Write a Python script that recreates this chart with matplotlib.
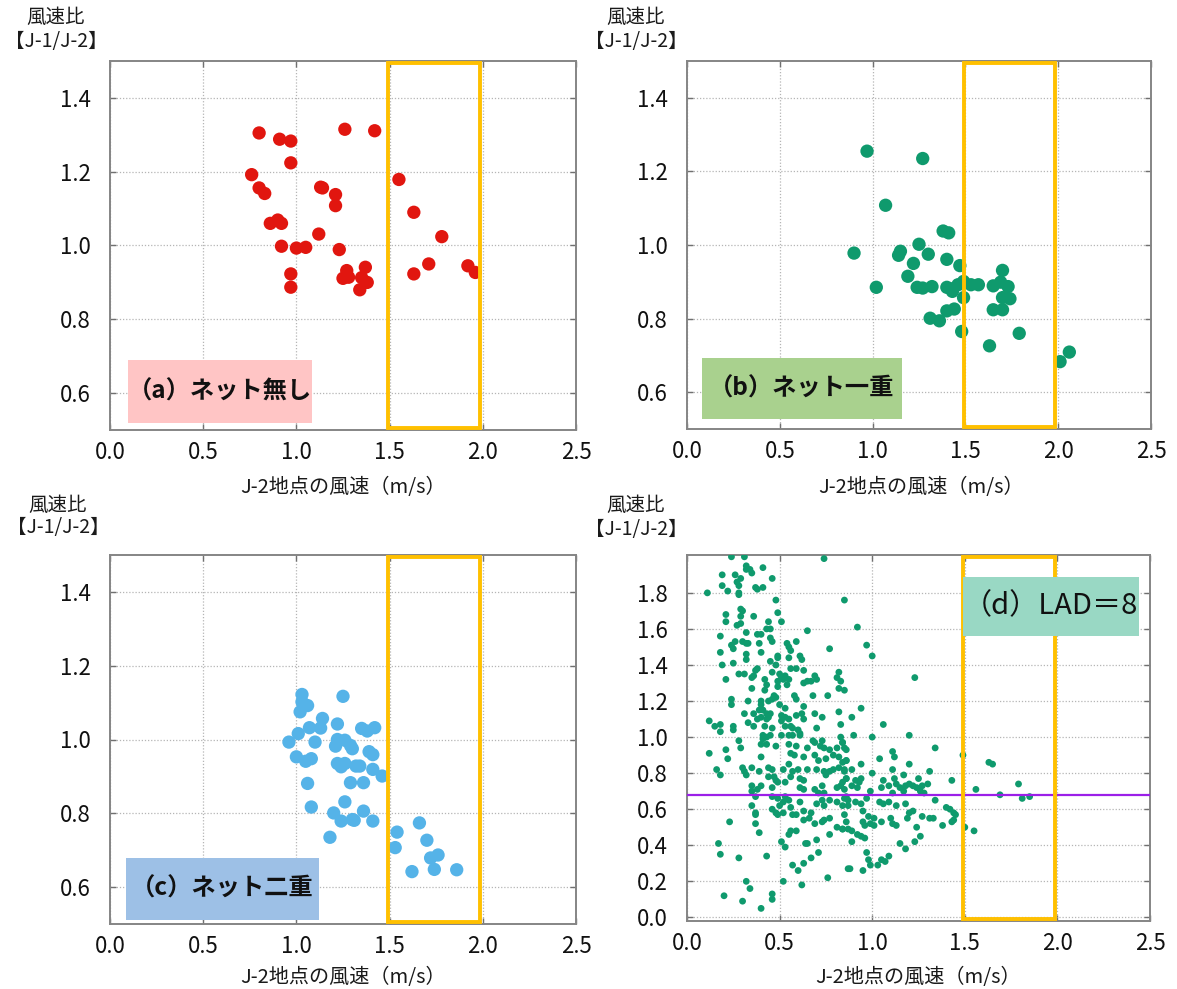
import matplotlib
matplotlib.use('Agg')
import matplotlib.pyplot as plt
from matplotlib.patches import Rectangle

plt.rcParams['font.family'] = ['Noto Sans CJK JP', 'DejaVu Sans']

# ---------------- data ----------------
x_ticks = [0.0, 0.5, 1.0, 1.5, 2.0, 2.5]
x_ticklabels = ['0.0', '0.5', '1.0', '1.5', '2.0', '2.5']
y_ticks_abc = [0.6, 0.8, 1.0, 1.2, 1.4]
y_ticks_d = [0.0, 0.2, 0.4, 0.6, 0.8, 1.0, 1.2, 1.4, 1.6, 1.8]

x_label = 'J-2地点の風速（m/s）'
y_label_1 = '風速比'
y_label_2 = '【J-1/J-2】'

panel_titles = ['（a）ネット無し', '（b）ネット一重', '（c）ネット二重', '（d）LAD＝8']

# (a) no net
a_x = [0.80, 0.91, 0.97, 1.26, 1.42, 0.97, 0.76, 0.80, 0.83, 1.13,
       1.14, 1.21, 1.21, 1.55, 1.63, 0.86, 0.90, 0.92, 1.12, 1.78,
       0.92, 1.00, 1.05, 1.23, 1.71, 1.92, 1.96, 1.63, 0.97, 0.97,
       1.27, 1.25, 1.28, 1.37, 1.35, 1.38, 1.34]
a_y = [1.305, 1.288, 1.283, 1.315, 1.311, 1.224, 1.192, 1.156, 1.141, 1.158,
       1.156, 1.138, 1.108, 1.179, 1.090, 1.060, 1.069, 1.060, 1.031, 1.024,
       0.998, 0.993, 0.995, 0.989, 0.950, 0.945, 0.927, 0.923, 0.923, 0.887,
       0.932, 0.911, 0.914, 0.941, 0.913, 0.900, 0.880]

# (b) single net
b_x = [0.97, 1.27, 1.07, 1.38, 1.41, 1.25, 0.90, 1.14, 1.15, 1.30,
       1.40, 1.22, 1.47, 1.70, 1.19, 1.02, 1.24, 1.27, 1.32, 1.40,
       1.43, 1.46, 1.49, 1.53, 1.57, 1.65, 1.69, 1.73, 1.49, 1.70,
       1.74, 1.40, 1.44, 1.65, 1.70, 1.31, 1.36, 1.48, 1.79, 1.63,
       2.06, 2.01, 1.43]
b_y = [1.255, 1.235, 1.108, 1.038, 1.033, 1.002, 0.978, 0.972, 0.983, 0.975,
       0.961, 0.950, 0.944, 0.931, 0.915, 0.885, 0.885, 0.883, 0.887, 0.885,
       0.881, 0.892, 0.901, 0.892, 0.892, 0.889, 0.899, 0.887, 0.857, 0.857,
       0.854, 0.821, 0.826, 0.824, 0.824, 0.801, 0.794, 0.765, 0.760, 0.726,
       0.709, 0.683, 0.874]

# (c) double net
c_x = [1.03, 1.25, 1.03, 1.06, 1.02, 1.14, 1.13, 1.07, 1.22, 1.35,
       1.38, 1.42, 1.01, 0.96, 1.10, 1.22, 1.21, 1.26, 1.29, 1.30,
       1.39, 1.41, 1.00, 1.05, 1.08, 1.22, 1.24, 1.26, 1.32, 1.34,
       1.41, 1.46, 1.06, 1.29, 1.36, 1.26, 1.08, 1.20, 1.36, 1.24,
       1.30, 1.31, 1.41, 1.18, 1.54, 1.66, 1.70, 1.53, 1.72, 1.76,
       1.62, 1.74, 1.86]
c_y = [1.122, 1.117, 1.102, 1.092, 1.075, 1.057, 1.031, 1.032, 1.042, 1.030,
       1.023, 1.032, 1.016, 0.993, 0.993, 1.000, 0.982, 0.998, 0.984, 0.975,
       0.967, 0.959, 0.953, 0.941, 0.948, 0.935, 0.926, 0.935, 0.928, 0.928,
       0.919, 0.901, 0.881, 0.883, 0.883, 0.831, 0.817, 0.801, 0.806, 0.779,
       0.783, 0.781, 0.779, 0.735, 0.749, 0.774, 0.727, 0.707, 0.679, 0.687,
       0.642, 0.648, 0.647]

# (d) LAD = 8 (simulation)
d_x = [0.24, 0.31, 0.74, 0.32, 0.32, 0.34, 0.35, 0.41, 0.19, 0.26,
       0.29, 0.46, 0.19, 0.22, 0.27, 0.28, 0.37, 0.38, 0.41, 0.11,
       0.28, 0.28, 0.48, 0.85, 0.21, 0.29, 0.30, 0.21, 0.29, 0.36,
       0.49, 0.51, 0.27, 0.29, 0.44, 0.45, 0.43, 0.38, 0.40, 0.32,
       0.65, 0.18, 0.26, 0.30, 0.33, 0.32, 0.24, 0.25, 0.39, 0.45,
       0.46, 0.54, 0.59, 0.55, 0.56, 0.77, 0.18, 0.32, 0.40, 0.49,
       0.49, 0.45, 0.55, 0.61, 0.62, 0.32, 0.19, 0.25, 0.63, 0.56,
       0.59, 0.48, 0.38, 0.37, 0.46, 0.28, 0.31, 0.35, 0.36, 0.50,
       0.51, 0.53, 0.52, 0.49, 0.55, 0.63, 0.65, 0.67, 0.69, 0.70,
       0.82, 0.81, 0.83, 0.21, 0.42, 0.43, 0.35, 0.42, 0.49, 0.54,
       0.82, 0.85, 0.24, 0.24, 0.33, 0.40, 0.40, 0.44, 0.46, 0.47,
       0.48, 0.50, 0.53, 0.58, 0.59, 0.63, 0.68, 0.76, 0.31, 0.36,
       0.39, 0.41, 0.43, 0.45, 0.44, 0.40, 0.38, 0.43, 0.51, 0.53,
       0.55, 0.59, 0.62, 0.69, 0.73, 0.82, 0.12, 0.15, 0.18, 0.18,
       0.25, 0.25, 0.33, 0.36, 0.42, 0.46, 0.51, 0.53, 0.56, 0.57,
       0.60, 0.61, 0.57, 0.63, 0.70, 0.83, 0.28, 0.41, 0.43, 0.45,
       0.41, 0.51, 0.55, 0.61, 0.68, 0.73, 0.83, 0.84,
       0.40, 0.43, 0.48, 0.55, 0.59, 0.65, 0.69, 0.72, 0.74, 0.77,
       0.81, 0.84, 0.86, 0.12, 0.21, 0.22, 0.29, 0.40, 0.56, 0.58,
       0.63, 0.69, 0.71, 0.75, 0.79, 0.82, 0.84, 0.86, 0.16, 0.18,
       0.30, 0.31, 0.32, 0.35, 0.39, 0.44, 0.46, 0.44, 0.47, 0.48,
       0.52, 0.55, 0.57, 0.60, 0.61, 0.63, 0.65, 0.70, 0.74, 0.75,
       0.77, 0.79, 0.82, 0.85, 0.86, 0.35, 0.40, 0.38, 0.35, 0.46,
       0.49, 0.53, 0.56, 0.61, 0.63, 0.69, 0.71, 0.73, 0.74, 0.81,
       0.84, 0.85, 0.37, 0.46, 0.49, 0.53, 0.55, 0.52, 0.50, 0.46,
       0.48, 0.49, 0.56, 0.61, 0.63, 0.63, 0.67, 0.70, 0.73, 0.74,
       0.77, 0.81, 0.84, 0.85, 0.87, 0.35, 0.37, 0.37, 0.23, 0.37,
       0.39, 0.52, 0.57, 0.59, 0.66, 0.69, 0.73, 0.74, 0.77, 0.81,
       0.84, 0.85, 0.87, 0.17, 0.18, 0.28, 0.43, 0.51, 0.53, 0.55,
       0.56, 0.59, 0.64, 0.65, 0.70, 0.71, 0.67, 0.77, 0.32, 0.34,
       0.20, 0.30, 0.40, 0.46, 0.46, 0.52, 0.57, 0.60, 0.63, 0.62,
       0.76, 0.88,
       0.92, 0.97, 1.00, 1.23, 0.94, 0.89, 1.06, 0.90, 1.00, 1.20,
       0.85, 1.34, 1.49, 1.63, 1.65, 1.11, 1.12, 1.04, 0.94, 0.86,
       1.20, 0.85, 0.89, 1.11, 1.00, 1.31, 0.86, 0.91, 0.93, 0.94,
       1.06, 1.12, 1.17, 1.25, 1.43, 1.56, 1.79, 0.83, 0.89, 0.92,
       0.99, 1.05, 1.09, 1.13, 1.15, 1.18, 1.20, 1.22, 1.24, 1.27,
       1.30, 1.28, 1.26, 1.17, 1.11, 1.69, 1.81, 1.85, 0.86, 0.91,
       0.94, 0.87, 0.97, 1.04, 1.06, 1.09, 1.13, 1.18, 1.34, 1.40,
       1.42, 1.44, 1.45, 0.95, 0.98, 1.01, 1.20, 1.22, 1.27, 1.31,
       1.33, 0.86, 0.84, 0.89, 0.92, 0.95, 0.96, 0.99, 1.01, 1.05,
       1.10, 1.11, 1.13, 1.19, 1.24, 1.38, 1.43, 1.44, 1.50, 1.55,
       0.89, 0.94, 0.96, 1.15, 1.18, 1.23, 1.26, 0.97, 0.98, 0.99,
       1.03, 1.05, 1.07, 1.09, 0.87, 0.95]
d_y = [2.00, 2.00, 1.99, 1.95, 1.93, 1.93, 1.91, 1.94, 1.90, 1.90,
       1.88, 1.88, 1.84, 1.81, 1.86, 1.84, 1.83, 1.82, 1.83, 1.80,
       1.80, 1.79, 1.76, 1.76, 1.68, 1.71, 1.70, 1.64, 1.67, 1.67,
       1.69, 1.64, 1.62, 1.63, 1.64, 1.60, 1.60, 1.57, 1.57, 1.58,
       1.59, 1.56, 1.53, 1.53, 1.52, 1.52, 1.51, 1.49, 1.52, 1.55,
       1.53, 1.52, 1.53, 1.50, 1.48, 1.49, 1.47, 1.46, 1.47, 1.45,
       1.44, 1.42, 1.44, 1.45, 1.43, 1.43, 1.40, 1.41, 1.37, 1.38,
       1.38, 1.40, 1.38, 1.37, 1.36, 1.35, 1.35, 1.33, 1.34, 1.35,
       1.33, 1.34, 1.32, 1.31, 1.32, 1.30, 1.31, 1.31, 1.34, 1.32,
       1.36, 1.33, 1.31, 1.32, 1.32, 1.29, 1.27, 1.26, 1.28, 1.29,
       1.27, 1.26, 1.21, 1.18, 1.20, 1.20, 1.18, 1.20, 1.21, 1.23,
       1.22, 1.18, 1.16, 1.23, 1.21, 1.17, 1.23, 1.23, 1.13, 1.13,
       1.15, 1.15, 1.13, 1.13, 1.11, 1.11, 1.10, 1.10, 1.12, 1.11,
       1.10, 1.12, 1.13, 1.13, 1.11, 1.14, 1.09, 1.06, 1.07, 1.03,
       1.06, 1.04, 1.08, 1.06, 1.06, 1.05, 1.09, 1.06, 1.06, 1.05,
       1.04, 1.02, 1.01, 1.10, 1.05, 1.07, 0.98, 1.01, 1.00, 1.01,
       0.99, 1.01, 1.01, 1.01, 0.98, 0.98, 1.00, 0.97,
       0.96, 0.96, 0.95, 0.96, 0.95, 0.94, 0.97, 0.95, 0.94, 0.93,
       0.94, 0.97, 0.93, 0.91, 0.93, 0.88, 0.94, 0.89, 0.91, 0.90,
       0.89, 0.90, 0.87, 0.88, 0.90, 0.89, 0.86, 0.87, 0.82, 0.79,
       0.83, 0.81, 0.79, 0.83, 0.81, 0.83, 0.82, 0.78, 0.78, 0.76,
       0.82, 0.85, 0.81, 0.82, 0.77, 0.76, 0.82, 0.82, 0.81, 0.79,
       0.81, 0.82, 0.83, 0.81, 0.77, 0.73, 0.73, 0.71, 0.70, 0.72,
       0.75, 0.75, 0.78, 0.72, 0.71, 0.71, 0.69, 0.73, 0.69, 0.72,
       0.75, 0.71, 0.67, 0.67, 0.66, 0.67, 0.65, 0.64, 0.62, 0.60,
       0.58, 0.57, 0.61, 0.64, 0.59, 0.54, 0.58, 0.63, 0.65, 0.62,
       0.65, 0.64, 0.62, 0.66, 0.65, 0.62, 0.58, 0.57, 0.53, 0.52,
       0.47, 0.58, 0.57, 0.57, 0.55, 0.52, 0.53, 0.54, 0.55, 0.50,
       0.49, 0.57, 0.49, 0.41, 0.35, 0.33, 0.34, 0.42, 0.39, 0.46,
       0.48, 0.48, 0.41, 0.41, 0.43, 0.36, 0.33, 0.46, 0.20, 0.16,
       0.12, 0.09, 0.05, 0.13, 0.10, 0.20, 0.29, 0.26, 0.30, 0.18,
       0.22, 0.27,
       1.61, 1.51, 1.45, 1.33, 1.16, 1.11, 1.07, 1.01, 1.00, 1.01,
       0.94, 0.94, 0.90, 0.86, 0.85, 0.92, 0.89, 0.88, 0.85, 0.87,
       0.85, 0.82, 0.82, 0.82, 0.80, 0.81, 0.77, 0.76, 0.75, 0.77,
       0.76, 0.77, 0.79, 0.77, 0.76, 0.71, 0.74, 0.73, 0.73, 0.72,
       0.70, 0.72, 0.73, 0.74, 0.72, 0.73, 0.74, 0.73, 0.72, 0.73,
       0.74, 0.69, 0.70, 0.70, 0.69, 0.68, 0.66, 0.67, 0.67, 0.64,
       0.63, 0.62, 0.66, 0.64, 0.63, 0.64, 0.62, 0.63, 0.65, 0.61,
       0.60, 0.58, 0.57, 0.59, 0.56, 0.55, 0.58, 0.59, 0.56, 0.55,
       0.55, 0.53, 0.49, 0.48, 0.46, 0.53, 0.51, 0.52, 0.51, 0.53,
       0.55, 0.52, 0.51, 0.55, 0.50, 0.51, 0.53, 0.54, 0.50, 0.48,
       0.42, 0.45, 0.44, 0.41, 0.38, 0.42, 0.45, 0.36, 0.32, 0.29,
       0.29, 0.32, 0.31, 0.34, 0.27, 0.26]

d_reference_line = 0.68
highlight_range = (1.49, 1.985)

# ---------------- style ----------------
W, H = 1177, 989
fig = plt.figure(figsize=(W / 100, H / 100), dpi=100)

RED = '#E1160F'
GREEN = '#0F9A6D'
BLUE = '#55B3E8'
ORANGE = '#FFC000'
PURPLE = '#9B1FE8'


def add_axes_px(left, top, right, bottom):
    return fig.add_axes([left / W, 1 - bottom / H, (right - left) / W, (bottom - top) / H])


def style_axes(ax, ylim, yticks):
    ax.set_xlim(0, 2.5)
    ax.set_ylim(*ylim)
    ax.set_xticks(x_ticks)
    ax.set_xticklabels(x_ticklabels)
    ax.set_yticks(yticks)
    ax.set_yticklabels([f'{v:.1f}' for v in yticks])
    ax.grid(True, linestyle=(0, (1, 1.5)), color='#b5b5b5', linewidth=0.9)
    ax.set_axisbelow(True)
    ax.tick_params(direction='in', top=True, right=True, length=4, width=1.0,
                   color='#707070', labelsize=16, labelcolor='#111111')
    ax.tick_params(axis='y', pad=14)
    ax.tick_params(axis='x', pad=8)
    for s in ax.spines.values():
        s.set_color('#858585')
        s.set_linewidth(1.4)


def add_highlight(ax, ylim, inset):
    lo, hi = highlight_range
    ax.add_patch(Rectangle((lo, ylim[0] + inset), hi - lo, ylim[1] - ylim[0] - 2 * inset,
                           fill=False, edgecolor=ORANGE, linewidth=2.8, zorder=4))


def add_title_box(ax, x0, x1, y0, y1, color, text, size, weight):
    ax.add_patch(Rectangle((x0, y0), x1 - x0, y1 - y0, facecolor=color,
                           edgecolor='none', zorder=5))
    ax.text((x0 + x1) / 2, (y0 + y1) / 2, text, ha='center', va='center',
            fontsize=size, fontweight=weight, color='#111111', zorder=6)


def add_labels(ylab_x, ylab_y1, ylab_y2, xlab_x, xlab_y):
    fig.text(ylab_x / W, 1 - ylab_y1 / H, y_label_1, ha='center', va='center', fontsize=14, color='#1a1a1a')
    fig.text(ylab_x / W, 1 - ylab_y2 / H, y_label_2, ha='center', va='center', fontsize=14, color='#1a1a1a')
    fig.text(xlab_x / W, 1 - xlab_y / H, x_label, ha='center', va='center', fontsize=14.5, color='#1a1a1a')


ylim_abc = (0.5, 1.5)
ylim_d = (-0.02, 2.01)

# (a)
ax_a = add_axes_px(110, 61, 576, 430)
style_axes(ax_a, ylim_abc, y_ticks_abc)
ax_a.scatter(a_x, a_y, s=92, color=RED, edgecolors='none', zorder=3)
add_highlight(ax_a, ylim_abc, 0.006)
add_title_box(ax_a, 0.097, 1.084, 0.520, 0.691, '#FFC5C5', panel_titles[0], 17.5, 'bold')
add_labels(56, 17, 42, 343, 488)

# (b)
ax_b = add_axes_px(687, 61, 1151, 429)
style_axes(ax_b, ylim_abc, y_ticks_abc)
ax_b.scatter(b_x, b_y, s=92, color=GREEN, edgecolors='none', zorder=3)
add_highlight(ax_b, ylim_abc, 0.006)
add_title_box(ax_b, 0.081, 1.158, 0.526, 0.694, '#A9D18E', panel_titles[1], 17.5, 'bold')
add_labels(636, 17, 42, 921, 488)

# (c)
ax_c = add_axes_px(110, 555, 576, 924)
style_axes(ax_c, ylim_abc, y_ticks_abc)
ax_c.scatter(c_x, c_y, s=92, color=BLUE, edgecolors='none', zorder=3)
add_highlight(ax_c, ylim_abc, 0.006)
add_title_box(ax_c, 0.086, 1.121, 0.511, 0.679, '#9DC0E6', panel_titles[2], 17.5, 'bold')
add_labels(58, 505, 528, 343, 977)

# (d)
ax_d = add_axes_px(687, 555, 1150, 921)
style_axes(ax_d, ylim_d, y_ticks_d)
ax_d.scatter(d_x, d_y, s=24, color=GREEN, edgecolors='none', zorder=3)
ax_d.axhline(d_reference_line, color=PURPLE, linewidth=1.6, zorder=3.5)
add_highlight(ax_d, ylim_d, 0.01)
add_title_box(ax_d, 1.49, 2.44, 1.56, 1.89, '#99D8C4', panel_titles[3], 21, 'normal')
add_labels(636, 505, 530, 918, 977)

fig.savefig('out.png', dpi=100)
